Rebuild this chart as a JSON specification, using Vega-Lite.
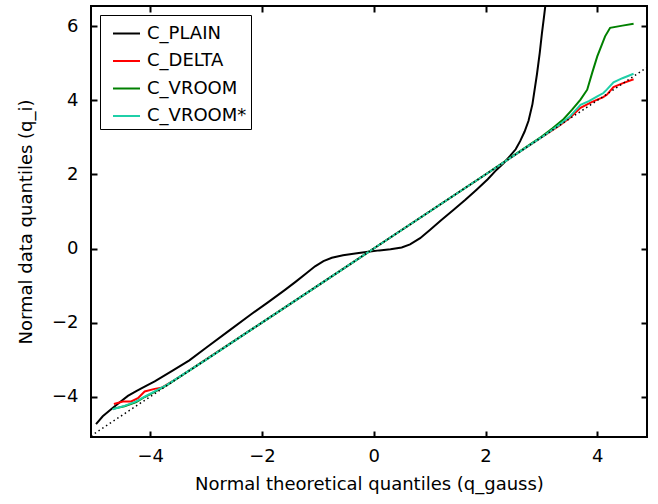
{
  "$schema": "https://vega.github.io/schema/vega-lite/v6.json",
  "width": 556,
  "height": 431,
  "autosize": "none",
  "padding": {"left": 91, "top": 6, "right": 11, "bottom": 67},
  "background": "white",
  "config": {
    "view": {"stroke": "black", "strokeWidth": 2},
    "font": "DejaVu Sans",
    "axis": {
      "domain": false,
      "grid": false,
      "ticks": true,
      "offset": -6,
      "tickColor": "black",
      "tickWidth": 2,
      "tickSize": 6,
      "labelFont": "DejaVu Sans",
      "labelFontSize": 18,
      "labelColor": "black",
      "titleFont": "DejaVu Sans",
      "titleFontSize": 18,
      "titleFontWeight": "normal",
      "titleColor": "black"
    }
  },
  "datasets": {
    "curves": [
      {"series": "C_PLAIN", "x": -4.97, "y": -4.74},
      {"series": "C_PLAIN", "x": -4.85, "y": -4.53},
      {"series": "C_PLAIN", "x": -4.70, "y": -4.34},
      {"series": "C_PLAIN", "x": -4.55, "y": -4.16},
      {"series": "C_PLAIN", "x": -4.40, "y": -3.98},
      {"series": "C_PLAIN", "x": -4.25, "y": -3.85},
      {"series": "C_PLAIN", "x": -4.10, "y": -3.73},
      {"series": "C_PLAIN", "x": -3.92, "y": -3.59},
      {"series": "C_PLAIN", "x": -3.60, "y": -3.30},
      {"series": "C_PLAIN", "x": -3.30, "y": -3.02},
      {"series": "C_PLAIN", "x": -3.00, "y": -2.68},
      {"series": "C_PLAIN", "x": -2.60, "y": -2.23},
      {"series": "C_PLAIN", "x": -2.20, "y": -1.78},
      {"series": "C_PLAIN", "x": -1.90, "y": -1.46},
      {"series": "C_PLAIN", "x": -1.60, "y": -1.13},
      {"series": "C_PLAIN", "x": -1.40, "y": -0.90},
      {"series": "C_PLAIN", "x": -1.20, "y": -0.66},
      {"series": "C_PLAIN", "x": -1.05, "y": -0.48},
      {"series": "C_PLAIN", "x": -0.90, "y": -0.34},
      {"series": "C_PLAIN", "x": -0.75, "y": -0.25},
      {"series": "C_PLAIN", "x": -0.55, "y": -0.18},
      {"series": "C_PLAIN", "x": -0.30, "y": -0.13},
      {"series": "C_PLAIN", "x": -0.10, "y": -0.09},
      {"series": "C_PLAIN", "x": 0.10, "y": -0.05},
      {"series": "C_PLAIN", "x": 0.30, "y": -0.02},
      {"series": "C_PLAIN", "x": 0.50, "y": 0.03},
      {"series": "C_PLAIN", "x": 0.65, "y": 0.11},
      {"series": "C_PLAIN", "x": 0.83, "y": 0.28},
      {"series": "C_PLAIN", "x": 1.01, "y": 0.51},
      {"series": "C_PLAIN", "x": 1.20, "y": 0.76},
      {"series": "C_PLAIN", "x": 1.43, "y": 1.05},
      {"series": "C_PLAIN", "x": 1.64, "y": 1.32},
      {"series": "C_PLAIN", "x": 1.84, "y": 1.59},
      {"series": "C_PLAIN", "x": 2.04, "y": 1.87},
      {"series": "C_PLAIN", "x": 2.20, "y": 2.13},
      {"series": "C_PLAIN", "x": 2.34, "y": 2.33},
      {"series": "C_PLAIN", "x": 2.44, "y": 2.50},
      {"series": "C_PLAIN", "x": 2.54, "y": 2.68},
      {"series": "C_PLAIN", "x": 2.62, "y": 2.90},
      {"series": "C_PLAIN", "x": 2.70, "y": 3.16},
      {"series": "C_PLAIN", "x": 2.77, "y": 3.45},
      {"series": "C_PLAIN", "x": 2.84, "y": 3.90},
      {"series": "C_PLAIN", "x": 2.92, "y": 4.70},
      {"series": "C_PLAIN", "x": 2.97, "y": 5.28},
      {"series": "C_PLAIN", "x": 3.01, "y": 5.82},
      {"series": "C_PLAIN", "x": 3.05, "y": 6.30},
      {"series": "C_PLAIN", "x": 3.09, "y": 6.80},

      {"series": "C_DELTA", "x": -4.65, "y": -4.20},
      {"series": "C_DELTA", "x": -4.49, "y": -4.13},
      {"series": "C_DELTA", "x": -4.34, "y": -4.13},
      {"series": "C_DELTA", "x": -4.22, "y": -4.04},
      {"series": "C_DELTA", "x": -4.10, "y": -3.86},
      {"series": "C_DELTA", "x": -3.92, "y": -3.79},
      {"series": "C_DELTA", "x": -3.80, "y": -3.76},
      {"series": "C_DELTA", "x": -3.50, "y": -3.49},
      {"series": "C_DELTA", "x": -3.00, "y": -2.99},
      {"series": "C_DELTA", "x": -2.00, "y": -2.00},
      {"series": "C_DELTA", "x": -1.00, "y": -1.00},
      {"series": "C_DELTA", "x": 0.00, "y": 0.00},
      {"series": "C_DELTA", "x": 1.00, "y": 1.00},
      {"series": "C_DELTA", "x": 2.00, "y": 2.00},
      {"series": "C_DELTA", "x": 3.00, "y": 3.00},
      {"series": "C_DELTA", "x": 3.30, "y": 3.30},
      {"series": "C_DELTA", "x": 3.50, "y": 3.52},
      {"series": "C_DELTA", "x": 3.70, "y": 3.80},
      {"series": "C_DELTA", "x": 3.88, "y": 3.94},
      {"series": "C_DELTA", "x": 4.00, "y": 4.02},
      {"series": "C_DELTA", "x": 4.10, "y": 4.08},
      {"series": "C_DELTA", "x": 4.17, "y": 4.15},
      {"series": "C_DELTA", "x": 4.29, "y": 4.36},
      {"series": "C_DELTA", "x": 4.45, "y": 4.46},
      {"series": "C_DELTA", "x": 4.65, "y": 4.57},

      {"series": "C_VROOM", "x": -4.67, "y": -4.33},
      {"series": "C_VROOM", "x": -4.46, "y": -4.26},
      {"series": "C_VROOM", "x": -4.25, "y": -4.15},
      {"series": "C_VROOM", "x": -4.10, "y": -4.01},
      {"series": "C_VROOM", "x": -3.92, "y": -3.87},
      {"series": "C_VROOM", "x": -3.70, "y": -3.69},
      {"series": "C_VROOM", "x": -3.00, "y": -3.00},
      {"series": "C_VROOM", "x": -2.00, "y": -2.00},
      {"series": "C_VROOM", "x": -1.00, "y": -1.00},
      {"series": "C_VROOM", "x": 0.00, "y": 0.00},
      {"series": "C_VROOM", "x": 1.00, "y": 1.00},
      {"series": "C_VROOM", "x": 2.00, "y": 2.00},
      {"series": "C_VROOM", "x": 3.00, "y": 3.02},
      {"series": "C_VROOM", "x": 3.20, "y": 3.25},
      {"series": "C_VROOM", "x": 3.40, "y": 3.50},
      {"series": "C_VROOM", "x": 3.55, "y": 3.75},
      {"series": "C_VROOM", "x": 3.70, "y": 4.02},
      {"series": "C_VROOM", "x": 3.82, "y": 4.29},
      {"series": "C_VROOM", "x": 3.91, "y": 4.75},
      {"series": "C_VROOM", "x": 4.00, "y": 5.19},
      {"series": "C_VROOM", "x": 4.14, "y": 5.73},
      {"series": "C_VROOM", "x": 4.23, "y": 5.96},
      {"series": "C_VROOM", "x": 4.45, "y": 6.02},
      {"series": "C_VROOM", "x": 4.65, "y": 6.07},

      {"series": "C_VROOM*", "x": -4.67, "y": -4.34},
      {"series": "C_VROOM*", "x": -4.46, "y": -4.25},
      {"series": "C_VROOM*", "x": -4.25, "y": -4.13},
      {"series": "C_VROOM*", "x": -4.10, "y": -4.00},
      {"series": "C_VROOM*", "x": -3.92, "y": -3.86},
      {"series": "C_VROOM*", "x": -3.70, "y": -3.68},
      {"series": "C_VROOM*", "x": -3.00, "y": -3.00},
      {"series": "C_VROOM*", "x": -2.00, "y": -2.00},
      {"series": "C_VROOM*", "x": -1.00, "y": -1.00},
      {"series": "C_VROOM*", "x": 0.00, "y": 0.00},
      {"series": "C_VROOM*", "x": 1.00, "y": 1.00},
      {"series": "C_VROOM*", "x": 2.00, "y": 2.00},
      {"series": "C_VROOM*", "x": 3.00, "y": 3.00},
      {"series": "C_VROOM*", "x": 3.30, "y": 3.32},
      {"series": "C_VROOM*", "x": 3.50, "y": 3.55},
      {"series": "C_VROOM*", "x": 3.70, "y": 3.88},
      {"series": "C_VROOM*", "x": 3.85, "y": 3.98},
      {"series": "C_VROOM*", "x": 4.00, "y": 4.11},
      {"series": "C_VROOM*", "x": 4.11, "y": 4.20},
      {"series": "C_VROOM*", "x": 4.17, "y": 4.29},
      {"series": "C_VROOM*", "x": 4.29, "y": 4.49},
      {"series": "C_VROOM*", "x": 4.45, "y": 4.60},
      {"series": "C_VROOM*", "x": 4.65, "y": 4.72}
    ],
    "ref": [
      {"x": -5.06, "y": -5.06},
      {"x": 4.89, "y": 4.89}
    ]
  },
  "layer": [
    {
      "data": {"name": "curves"},
      "mark": {"type": "line", "strokeWidth": 2, "clip": true},
      "encoding": {
        "x": {
          "field": "x", "type": "quantitative",
          "scale": {"domain": [-5.06, 4.89], "nice": false, "zero": false},
          "axis": {
            "values": [-4, -2, 0, 2, 4],
            "labelPadding": 10,
            "title": "Normal theoretical quantiles (q_gauss)",
            "titleY": 58,
            "titleBaseline": "alphabetic"
          }
        },
        "y": {
          "field": "y", "type": "quantitative",
          "scale": {"domain": [-5.09, 6.55], "nice": false, "zero": false},
          "axis": {
            "values": [-4, -2, 0, 2, 4, 6],
            "labelPadding": 13,
            "title": "Normal data quantiles (q_i)",
            "titleX": -66,
            "titleBaseline": "alphabetic"
          }
        },
        "color": {
          "field": "series", "type": "nominal",
          "scale": {
            "domain": ["C_PLAIN", "C_DELTA", "C_VROOM", "C_VROOM*"],
            "range": ["#000000", "#ff0000", "#008000", "#1fcfa8"]
          },
          "legend": {
            "orient": "none",
            "legendX": 9,
            "legendY": 9,
            "title": null,
            "symbolType": "stroke",
            "symbolSize": 729,
            "symbolStrokeWidth": 2,
            "labelFont": "DejaVu Sans",
            "labelFontSize": 18,
            "labelColor": "black",
            "strokeColor": "black",
            "fillColor": "white",
            "padding": 4,
            "rowPadding": 3.5,
            "symbolOffset": 8,
            "labelOffset": 6
          }
        }
      }
    },
    {
      "data": {"name": "ref"},
      "mark": {"type": "line", "color": "black", "strokeWidth": 1.5, "strokeDash": [1.5, 3], "clip": true},
      "encoding": {
        "x": {
          "field": "x", "type": "quantitative",
          "axis": {"orient": "top", "values": [-4, -2, 0, 2, 4], "labels": false, "title": null}
        },
        "y": {
          "field": "y", "type": "quantitative",
          "axis": {"orient": "right", "values": [-4, -2, 0, 2, 4, 6], "labels": false, "title": null}
        }
      }
    }
  ],
  "resolve": {"axis": {"x": "independent", "y": "independent"}}
}
